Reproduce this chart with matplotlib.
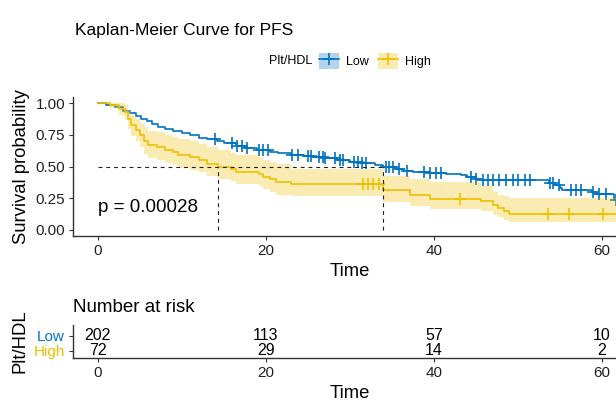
import numpy as np
import matplotlib
matplotlib.use("Agg")
import matplotlib.pyplot as plt
from matplotlib.patches import Patch
from matplotlib.lines import Line2D

plt.rcParams['font.family'] = ['Liberation Sans', 'DejaVu Sans']

# --- data ---
groups = ["Low", "High"]
colors = {"Low": "#0073C2", "High": "#EFC000"}

# Low group step curve (time, survival after step)
low_t = [0, 1.0, 2.0, 3.0, 3.8, 4.5, 5.1, 5.8, 6.5, 7.1, 8.0, 9.0, 10.0, 11.0, 12.0,
         13.0, 14.2, 15.0, 16.5, 17.5, 19.0, 20.5, 21.5, 23.0, 24.5, 25.5, 27.0, 28.5,
         30.0, 31.5, 33.0, 34.0, 35.5, 36.5, 37.5, 39.5, 41.5, 43.2, 44.0, 45.0, 45.6,
         53.7, 54.3, 55.0, 55.3, 58.8, 59.3, 61.5, 61.8]
low_s = [1.0, 0.99, 0.97, 0.94, 0.92, 0.90, 0.88, 0.86, 0.835, 0.815, 0.795, 0.78, 0.765,
         0.75, 0.73, 0.715, 0.70, 0.685, 0.665, 0.645, 0.63, 0.615, 0.605, 0.595, 0.585,
         0.578, 0.565, 0.55, 0.54, 0.526, 0.512, 0.495, 0.48, 0.462, 0.455, 0.447, 0.44,
         0.434, 0.42, 0.405, 0.392, 0.37, 0.352, 0.33, 0.314, 0.30, 0.282, 0.24, 0.20]
low_cens = [14.0, 16.0, 16.6, 17.2, 17.7, 19.2, 19.7, 20.3, 23.1, 23.8, 25.0, 25.4, 26.3,
            26.8, 27.1, 28.2, 28.8, 29.2, 30.5, 31.0, 31.5, 31.9, 34.3, 34.7, 35.1, 35.8,
            36.8, 38.8, 39.5, 40.2, 40.8, 44.4, 45.0, 45.8, 46.4, 47.0, 47.8, 48.6, 49.4,
            50.0, 50.8, 51.5, 53.8, 54.2, 54.9, 56.3, 56.9, 57.5, 59.0, 59.7, 60.5, 61.7]

# High group step curve with confidence band
high_t = [0, 1.5, 2.5, 3.2, 3.6, 4.0, 4.5, 5.0, 5.5, 6.0, 7.0, 8.0, 9.0, 9.5, 11.0, 12.0,
          13.0, 14.3, 15.8, 16.5, 19.2, 19.6, 20.5, 21.2, 23.0, 34.0, 37.2, 39.5, 45.6,
          47.0, 47.6, 48.3, 48.9]
high_s = [1.0, 0.986, 0.958, 0.93, 0.875, 0.83, 0.79, 0.75, 0.70, 0.67, 0.655, 0.63, 0.615,
          0.59, 0.575, 0.555, 0.52, 0.50, 0.485, 0.46, 0.445, 0.42, 0.40, 0.38, 0.36, 0.316,
          0.28, 0.245, 0.232, 0.20, 0.171, 0.15, 0.124]
high_up = [1.0, 1.0, 1.0, 0.99, 0.95, 0.91, 0.88, 0.845, 0.81, 0.785, 0.77, 0.75, 0.735,
           0.72, 0.70, 0.68, 0.655, 0.63, 0.61, 0.59, 0.575, 0.555, 0.535, 0.52, 0.48, 0.43,
           0.40, 0.376, 0.35, 0.30, 0.28, 0.265, 0.25]
high_lo = [1.0, 0.96, 0.91, 0.87, 0.80, 0.745, 0.70, 0.655, 0.60, 0.57, 0.555, 0.53, 0.515,
           0.49, 0.475, 0.455, 0.43, 0.405, 0.385, 0.36, 0.345, 0.32, 0.30, 0.28, 0.265,
           0.222, 0.188, 0.162, 0.15, 0.12, 0.10, 0.08, 0.06]
high_cens = [31.6, 32.2, 32.7, 33.5, 43.1, 53.6, 56.1, 60.2]

risk_times = [0, 20, 40, 60]
risk_low = [202, 113, 57, 10]
risk_high = [72, 29, 14, 2]
p_text = "p = 0.00028"

x_end = 63.0


def step_at(times, surv, t):
    idx = np.searchsorted(times, t, side="right") - 1
    return np.asarray(surv)[idx]


fig = plt.figure(figsize=(6.16, 4.01), dpi=100)
W, H = 616, 401
left_px, right_px = 72.7, 627.0
ax = fig.add_axes([left_px / W, 1 - 236.3 / H, (right_px - left_px) / W, (236.3 - 97.0) / H])

# curves
lt = np.append(low_t, x_end)
ls = np.append(low_s, low_s[-1])
ax.step(lt, ls, where="post", color=colors["Low"], lw=1.2, zorder=2)
ax.plot(low_cens, step_at(low_t, low_s, low_cens), ls="none", marker="+",
        ms=8, mew=1.2, color=colors["Low"], zorder=2)

ht = np.append(high_t, x_end)
ax.fill_between(ht, np.append(high_lo, high_lo[-1]), np.append(high_up, high_up[-1]),
                step="post", color=colors["High"], alpha=0.3, lw=0, zorder=3)
ax.step(ht, np.append(high_s, high_s[-1]), where="post", color=colors["High"], lw=1.2, zorder=4)
ax.plot(high_cens, step_at(high_t, high_s, high_cens), ls="none", marker="+",
        ms=8, mew=1.2, color=colors["High"], zorder=4)

# median lines
med_high = high_t[int(np.argmax(np.array(high_s) <= 0.5))]
med_low = low_t[int(np.argmax(np.array(low_s) <= 0.5))]
dash = dict(color="#222222", lw=0.8, ls=(0, (3.5, 3.5)), zorder=5)
ax.plot([0, max(med_high, med_low)], [0.5, 0.5], **dash)
for m in (med_high, med_low):
    ax.plot([m, m], [0, 0.5], **dash)

ax.text(0, 0.18, p_text, fontsize=13.5, va="center", ha="left", color="black")

ax.set_xlim(-3, x_end)
ax.set_ylim(-0.05, 1.05)
ax.set_xticks(risk_times)
ax.set_yticks([0, 0.25, 0.5, 0.75, 1.0])
ax.set_yticklabels(["0.00", "0.25", "0.50", "0.75", "1.00"])
for s in ("top", "right"):
    ax.spines[s].set_visible(False)
for s in ("left", "bottom"):
    ax.spines[s].set_linewidth(1.0)
    ax.spines[s].set_color("#333333")
ax.tick_params(length=3, width=0.8, color="#333333", labelsize=11, labelcolor="#222222", pad=2.5)
ax.set_xlabel("Time", fontsize=13.3)
ax.xaxis.set_label_coords(0.5, (236.3 - 272) / (236.3 - 97.0))
ax.xaxis.label.set_va("center")
ax.set_ylabel("Survival probability", fontsize=13.3)
ax.yaxis.set_label_coords((21.7 - left_px) / (right_px - left_px), 0.5)
ax.yaxis.label.set_va("center")

# title and legend
fig.text(75 / W, 1 - 30 / H, "Kaplan-Meier Curve for PFS", fontsize=12.5, va="center", ha="left")
fig.text(312 / W, 1 - 61.5 / H, "Plt/HDL", fontsize=9, va="center", ha="right")
handles = [(Patch(facecolor=colors[g], alpha=0.3, lw=0),
            Line2D([], [], color=colors[g], lw=1.2, marker="+", ms=8, mew=1.2)) for g in groups]
fig.legend(handles, groups, loc="center left", bbox_to_anchor=(319 / W, 1 - 61 / H),
           ncol=2, frameon=False, fontsize=9, borderpad=0, borderaxespad=0,
           handlelength=1.6, handleheight=1.7, handletextpad=0.55, columnspacing=0.75)

# risk table
rax = fig.add_axes([left_px / W, 1 - 358.3 / H, (right_px - left_px) / W, (358.3 - 325.0) / H])
rows = {"Low": 2, "High": 1}
for g, vals in (("Low", risk_low), ("High", risk_high)):
    for t, v in zip(risk_times, vals):
        rax.text(t, rows[g], str(v), ha="center", va="center", fontsize=11.5, color="black")
rax.set_xlim(-3, x_end)
rax.set_ylim(0.49, 2.71)
rax.set_xticks(risk_times)
rax.set_yticks([rows[g] for g in groups])
rax.set_yticklabels(groups)
for lab, g in zip(rax.get_yticklabels(), groups):
    lab.set_color(colors[g])
for s in ("top", "right"):
    rax.spines[s].set_visible(False)
for s in ("left", "bottom"):
    rax.spines[s].set_linewidth(1.0)
    rax.spines[s].set_color("#333333")
rax.tick_params(length=3, width=0.8, color="#333333", labelsize=11, pad=2.5)
rax.tick_params(axis="x", labelcolor="#222222")
rax.set_xlabel("Time", fontsize=13.3)
rax.xaxis.set_label_coords(0.5, (358.3 - 393) / (358.3 - 325.0))
rax.xaxis.label.set_va("center")
rax.set_ylabel("Plt/HDL", fontsize=13.3)
rax.yaxis.set_label_coords((20 - left_px) / (right_px - left_px), 0.52)
rax.yaxis.label.set_va("center")
fig.text(73 / W, 1 - 307 / H, "Number at risk", fontsize=13.5, va="center", ha="left")

fig.savefig("out.png", dpi=100)
